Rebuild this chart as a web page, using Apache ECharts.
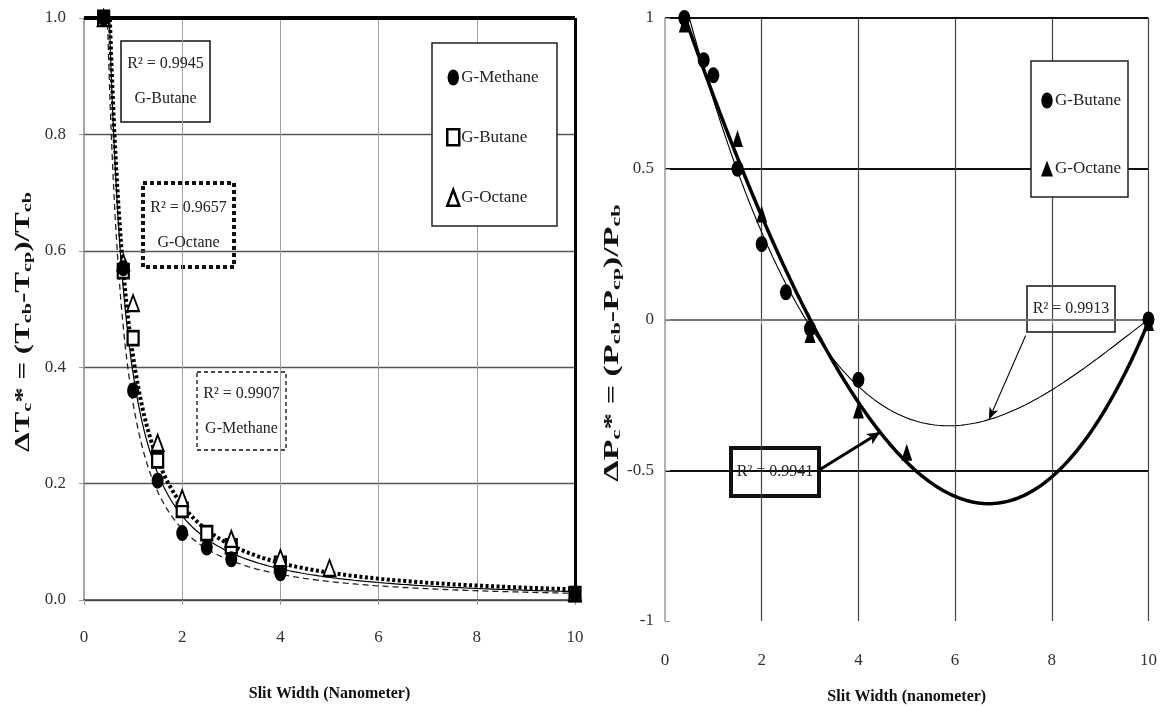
<!DOCTYPE html>
<html>
<head>
<meta charset="utf-8">
<title>Critical property shifts vs slit width</title>
<script src="https://cdn.jsdelivr.net/npm/echarts@6/dist/echarts.min.js"></script>
<style>
  html, body { margin: 0; padding: 0; background: #fff; }
  #chart { width: 1160px; height: 713px; }
</style>
</head>
<body>
<div id="chart"></div>
<script>
// ---- Left panel: reduced critical temperature shift, ΔTc* ----
const slitWidthTicks = [0, 2, 4, 6, 8, 10];
const methaneTcX = [0.4, 0.8, 1, 1.5, 2, 2.5, 3, 4, 10];
const methaneTcY = [1.0, 0.57, 0.36, 0.205, 0.115, 0.09, 0.07, 0.046, 0.01];
const butaneTcX = [0.4, 0.8, 1, 1.5, 2, 2.5, 3, 4, 10];
const butaneTcY = [1.0, 0.565, 0.45, 0.24, 0.155, 0.115, 0.092, 0.062, 0.01];
const octaneTcX = [0.4, 0.8, 1, 1.5, 2, 3, 4, 5, 10];
const octaneTcY = [1.0, 0.58, 0.51, 0.27, 0.175, 0.105, 0.072, 0.055, 0.012];

// ---- Right panel: reduced critical pressure shift, ΔPc* ----
const butanePcX = [0.4, 0.8, 1, 1.5, 2, 2.5, 3, 4, 10];
const butanePcY = [1.0, 0.86, 0.81, 0.5, 0.25, 0.09, -0.03, -0.2, 0.0];
const octanePcX = [0.4, 1.5, 2, 3, 4, 5, 10];
const octanePcY = [0.98, 0.6, 0.35, -0.05, -0.3, -0.44, -0.01];

// R² values reported for each trendline
const r2Labels = {
  tcButane: 'R² = 0.9945', tcOctane: 'R² = 0.9657', tcMethane: 'R² = 0.9907',
  pcButane: 'R² = 0.9913', pcOctane: 'R² = 0.9941'
};

const FONT = 'Liberation Serif';
const ELLIPSE = 'path://M5,0 A5,7 0 1,1 5,14 A5,7 0 1,1 5,0 Z';

function zip(xs, ys) { return xs.map((x, i) => [x, ys[i]]); }

// Power-law trendline y = a·x^b (least squares in log space)
function powerFit(xs, ys) {
  const n = xs.length;
  let sx = 0, sy = 0, sxx = 0, sxy = 0;
  for (let i = 0; i < n; i++) {
    const lx = Math.log(xs[i]), ly = Math.log(ys[i]);
    sx += lx; sy += ly; sxx += lx * lx; sxy += lx * ly;
  }
  const b = (n * sxy - sx * sy) / (n * sxx - sx * sx);
  const a = Math.exp((sy - b * sx) / n);
  return x => a * Math.pow(x, b);
}

// Polynomial trendline via normal equations
function polyFit(xs, ys, deg) {
  const m = deg + 1;
  const A = [];
  for (let r = 0; r < m; r++) {
    A.push(new Array(m + 1).fill(0));
    for (let c = 0; c < m; c++) {
      A[r][c] = xs.reduce((s, x) => s + Math.pow(x, r + c), 0);
    }
    A[r][m] = xs.reduce((s, x, i) => s + ys[i] * Math.pow(x, r), 0);
  }
  for (let p = 0; p < m; p++) {
    let best = p;
    for (let r = p + 1; r < m; r++) if (Math.abs(A[r][p]) > Math.abs(A[best][p])) best = r;
    [A[p], A[best]] = [A[best], A[p]];
    for (let r = 0; r < m; r++) {
      if (r === p) continue;
      const f = A[r][p] / A[p][p];
      for (let c = p; c <= m; c++) A[r][c] -= f * A[p][c];
    }
  }
  const coef = A.map((row, i) => row[m] / row[i]);
  return x => coef.reduce((s, c, k) => s + c * Math.pow(x, k), 0);
}

function sampleCurve(fn, x0, x1, step) {
  const pts = [];
  for (let x = x0; x <= x1 + 1e-9; x += step) pts.push([+x.toFixed(4), fn(x)]);
  return pts;
}

const fitTcMethane = powerFit(methaneTcX, methaneTcY);
const fitTcButane = powerFit(butaneTcX, butaneTcY);
const fitTcOctane = powerFit(octaneTcX, octaneTcY);
const fitPcButane = polyFit(butanePcX, butanePcY, 3);
const fitPcOctane = polyFit(octanePcX, octanePcY, 3);

const labelStyle = { fontFamily: FONT, fontSize: 17, color: '#333' };
const titleRich = {
  t: { fontFamily: FONT, fontWeight: 'bold', fontSize: 20, lineHeight: 24, fill: '#111', verticalAlign: 'bottom' },
  s: { fontFamily: FONT, fontWeight: 'bold', fontSize: 13, lineHeight: 14, fill: '#111', verticalAlign: 'bottom' }
};

// Rotated y-axis title, stretched along its reading direction
function yTitle(cx, cy, text, stretch) {
  return {
    type: 'text', z: 10, x: cx, y: cy, rotation: Math.PI / 2, scaleX: stretch, scaleY: 1,
    style: { text: text, rich: titleRich, align: 'center', verticalAlign: 'middle',
             fontFamily: FONT, fontWeight: 'bold', fontSize: 20, fill: '#111' }
  };
}

function noteBox(x, y, w, h, lines, stroke) {
  const children = [{
    type: 'rect', shape: { x: x, y: y, width: w, height: h },
    style: Object.assign({ fill: '#fff', stroke: '#111' }, stroke), z: 0
  }];
  const step = lines.length > 1 ? 35 : 0;
  const firstY = y + h / 2 - step * (lines.length - 1) / 2;
  lines.forEach((txt, i) => {
    children.push({
      type: 'text', z: 1,
      style: { x: x + w / 2, y: firstY + i * step, text: txt, align: 'center', verticalAlign: 'middle',
               fontFamily: FONT, fontSize: 16, fill: '#222' }
    });
  });
  return { type: 'group', z: 50, children: children };
}

const chart = echarts.init(document.getElementById('chart'));
chart.setOption({
  animation: false,
  backgroundColor: '#fff',
  grid: [
    { left: 84, top: 18, width: 491, height: 582 },
    { left: 665, top: 18, width: 485, height: 603 }
  ],
  xAxis: [
    {
      gridIndex: 0, type: 'value', min: 0, max: 10, interval: 2, offset: 3,
      name: 'Slit Width (Nanometer)', nameLocation: 'middle', nameGap: 83,
      nameTextStyle: { fontFamily: FONT, fontWeight: 'bold', fontSize: 16, color: '#111' },
      axisLine: { lineStyle: { color: '#444', width: 1.5 } },
      axisTick: { show: true, length: 5, lineStyle: { color: '#999' } },
      axisLabel: Object.assign({ margin: 26, customValues: slitWidthTicks }, labelStyle),
      splitLine: { show: true, showMinLine: false, lineStyle: { color: '#a0a0a0', width: 1 } }
    },
    {
      gridIndex: 1, type: 'value', min: 0, max: 10, interval: 2,
      name: 'Slit Width (nanometer)', nameLocation: 'middle', nameGap: 68,
      nameTextStyle: { fontFamily: FONT, fontWeight: 'bold', fontSize: 16, color: '#111' },
      axisLine: { lineStyle: { color: '#999', width: 1.5 } },
      axisTick: { show: true, length: 5, lineStyle: { color: '#999' } },
      axisLabel: Object.assign({ margin: 31 }, labelStyle),
      splitLine: { show: true, showMinLine: false, lineStyle: { color: '#444', width: 1.2 } }
    }
  ],
  yAxis: [
    {
      gridIndex: 0, type: 'value', min: 0, max: 1, interval: 0.2,
      axisLine: { show: true, lineStyle: { color: '#888', width: 1.5 } },
      axisTick: { show: true, length: 5, lineStyle: { color: '#999' } },
      axisLabel: Object.assign({ margin: 18, formatter: v => v.toFixed(1) }, labelStyle),
      splitLine: { show: true, lineStyle: { color: '#555', width: 1.3 } }
    },
    {
      gridIndex: 1, type: 'value', min: -1, max: 1, interval: 0.5,
      axisLine: { show: true, lineStyle: { color: '#999', width: 1.5 } },
      axisTick: { show: true, inside: true, length: 5, lineStyle: { color: '#999' } },
      axisLabel: Object.assign({ margin: 11 }, labelStyle),
      splitLine: { show: true, showMinLine: false, lineStyle: { color: '#111', width: 2 } }
    }
  ],
  legend: [
    {
      left: 441, top: 64, orient: 'vertical', itemGap: 42, itemWidth: 12, itemHeight: 16, z: 6,
      textStyle: { fontFamily: FONT, fontSize: 17, color: '#222', padding: [0, 0, 0, -3] },
      data: [
        { name: 'G-Methane', icon: ELLIPSE, itemStyle: { color: '#000', borderWidth: 0, opacity: 1 } },
        { name: 'G-Butane', icon: 'rect', itemStyle: { color: '#fff', borderColor: '#000', borderWidth: 2.5, opacity: 1 } },
        { name: 'G-Octane', icon: 'triangle', itemStyle: { color: '#fff', borderColor: '#000', borderWidth: 2.5, opacity: 1 } }
      ],
      selectedMode: false
    },
    {
      left: 1036, top: 87, orient: 'vertical', itemGap: 51, itemWidth: 12, itemHeight: 16, z: 6,
      textStyle: { fontFamily: FONT, fontSize: 17, color: '#222', padding: [0, 0, 0, -3] },
      data: [
        { name: 'G-Butane', icon: ELLIPSE, itemStyle: { color: '#000', borderWidth: 0, opacity: 1 } },
        { name: 'G-Octane', icon: 'triangle', itemStyle: { color: '#000', borderWidth: 0, opacity: 1 } }
      ],
      selectedMode: false
    }
  ],
  series: [
    // ----- left panel trendlines -----
    {
      name: 'Methane power fit', type: 'line', xAxisIndex: 0, yAxisIndex: 0, silent: true,
      symbol: 'none', z: 3, data: sampleCurve(fitTcMethane, 0.4, 10, 0.02),
      lineStyle: { color: '#222', width: 1.3, type: [6, 4] },
      markLine: {
        silent: true, symbol: 'none', label: { show: false },
        data: [
          { yAxis: 1, lineStyle: { color: '#000', width: 4, type: 'solid' } },
          { xAxis: 10, lineStyle: { color: '#000', width: 3, type: 'solid' } }
        ]
      }
    },
    {
      name: 'Butane power fit', type: 'line', xAxisIndex: 0, yAxisIndex: 0, silent: true,
      symbol: 'none', z: 3, data: sampleCurve(fitTcButane, 0.4, 10, 0.02),
      lineStyle: { color: '#000', width: 1.2, type: 'solid' }
    },
    {
      name: 'Octane power fit', type: 'line', xAxisIndex: 0, yAxisIndex: 0, silent: true,
      symbol: 'none', z: 3, data: sampleCurve(fitTcOctane, 0.4, 10, 0.02),
      lineStyle: { color: '#000', width: 4, type: [3, 2.5], cap: 'butt' }
    },
    // ----- left panel measurements -----
    {
      name: 'G-Butane', type: 'scatter', xAxisIndex: 0, yAxisIndex: 0, z: 5,
      symbol: 'rect', symbolSize: [11, 14], data: zip(butaneTcX, butaneTcY),
      itemStyle: { color: '#fff', borderColor: '#000', borderWidth: 2.5, opacity: 1 }
    },
    {
      name: 'G-Octane', type: 'scatter', xAxisIndex: 0, yAxisIndex: 0, z: 6,
      symbol: 'triangle', symbolSize: [12, 16], data: zip(octaneTcX, octaneTcY),
      itemStyle: { color: '#fff', borderColor: '#000', borderWidth: 2, opacity: 1 }
    },
    {
      name: 'G-Methane', type: 'scatter', xAxisIndex: 0, yAxisIndex: 0, z: 7,
      symbol: ELLIPSE, symbolSize: [12, 16], data: zip(methaneTcX, methaneTcY),
      itemStyle: { color: '#000', opacity: 1 }
    },
    // ----- right panel trendlines -----
    {
      name: 'Butane cubic fit', type: 'line', xAxisIndex: 1, yAxisIndex: 1, silent: true,
      symbol: 'none', z: 3, data: sampleCurve(fitPcButane, 0.4, 10, 0.02),
      lineStyle: { color: '#000', width: 1.1 },
      markLine: {
        silent: true, symbol: ['none', 'arrow'], symbolSize: [7, 12], label: { show: false },
        lineStyle: { color: '#000', width: 1.1, type: 'solid' },
        data: [[{ coord: [7.46, -0.053] }, { coord: [6.7, fitPcButane(6.7)] }]]
      }
    },
    {
      name: 'Octane cubic fit', type: 'line', xAxisIndex: 1, yAxisIndex: 1, silent: true,
      symbol: 'none', z: 3, data: sampleCurve(fitPcOctane, 0.4, 10, 0.02),
      lineStyle: { color: '#000', width: 3.5 },
      markLine: {
        silent: true, symbol: ['none', 'arrow'], symbolSize: [9, 13], label: { show: false },
        data: [
          [{ coord: [3.18, -0.5], lineStyle: { color: '#000', width: 3, type: 'solid' } },
           { coord: [4.45, fitPcOctane(4.45)] }],
          [{ yAxis: 1, symbol: 'none', lineStyle: { color: '#000', width: 3, type: 'solid' } },
           { yAxis: 1, symbol: 'none' }]
        ]
      }
    },
    // ----- right panel measurements -----
    {
      name: 'G-Butane', type: 'scatter', xAxisIndex: 1, yAxisIndex: 1, z: 5,
      symbol: ELLIPSE, symbolSize: [12, 16], data: zip(butanePcX, butanePcY),
      itemStyle: { color: '#000', opacity: 1 }
    },
    {
      name: 'G-Octane', type: 'scatter', xAxisIndex: 1, yAxisIndex: 1, z: 6,
      symbol: 'triangle', symbolSize: [11, 17], data: zip(octanePcX, octanePcY),
      itemStyle: { color: '#000', opacity: 1 }
    }
  ],
  graphic: [
    // legend frames
    { type: 'rect', z: 3, shape: { x: 432, y: 43, width: 125, height: 183 },
      style: { fill: '#fff', stroke: '#222', lineWidth: 1.5 } },
    { type: 'rect', z: 3, shape: { x: 1031, y: 61, width: 97, height: 136 },
      style: { fill: '#fff', stroke: '#222', lineWidth: 1.5 } },
    // y-axis titles
    yTitle(22, 322, '{t|ΔT}{s|c}{t|* = (T}{s|cb}{t|-T}{s|cp}{t|)/T}{s|cb}', 1.55),
    yTitle(611, 343, '{t|ΔP}{s|c}{t|* = (P}{s|cb}{t|-P}{s|cp}{t|)/P}{s|cb}', 1.7),
    // trendline notes, left panel
    noteBox(121, 41, 89, 81, [r2Labels.tcButane, 'G-Butane'], { lineWidth: 1.5 }),
    noteBox(143, 183, 91, 84, [r2Labels.tcOctane, 'G-Octane'], { lineWidth: 4, lineDash: [4, 3] }),
    noteBox(197, 372, 89, 78, [r2Labels.tcMethane, 'G-Methane'], { lineWidth: 1.3, lineDash: [4, 3] }),
    // trendline notes, right panel
    noteBox(1027, 286, 88, 46, [r2Labels.pcButane], { lineWidth: 1.5 }),
    noteBox(731, 448, 88, 48, [r2Labels.pcOctane], { lineWidth: 4 })
  ]
});
</script>
</body>
</html>
